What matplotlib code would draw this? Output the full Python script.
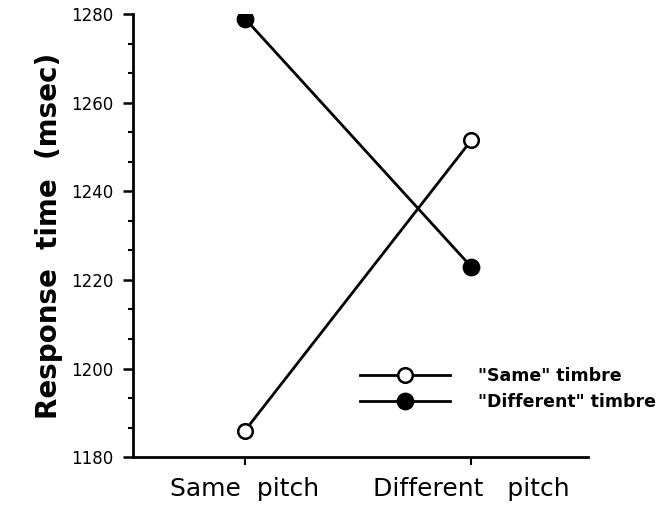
import matplotlib
matplotlib.use("Agg")
import matplotlib.pyplot as plt
from matplotlib.ticker import AutoMinorLocator

# data
conditions = ["Same  pitch", "Different   pitch"]
same_timbre = [1186, 1251.5]
diff_timbre = [1279, 1223]

plt.rcParams['font.family'] = ['DejaVu Sans']

fig = plt.figure(figsize=(6.58, 5.09), dpi=100)
ax = fig.add_axes([0.202, 0.102, 0.692, 0.870])

x = range(len(conditions))
ax.plot(x, same_timbre, color='black', lw=2, marker='o', ms=10.5,
        mfc='white', mec='black', mew=1.8, label='"Same" timbre', zorder=3)
ax.plot(x, diff_timbre, color='black', lw=2, marker='o', ms=11,
        mfc='black', mec='black', mew=1.8, label='"Different" timbre', zorder=3)

ax.set_xlim(-0.496, 1.518)
ax.set_ylim(1180, 1280)
ax.set_yticks([1180, 1200, 1220, 1240, 1260, 1280])
ax.yaxis.set_minor_locator(AutoMinorLocator(3))
ax.set_xticks(list(x))
ax.set_xticklabels(conditions, fontsize=18)
ax.tick_params(axis='y', labelsize=12, length=7, width=1.8, direction='out', pad=7)
ax.tick_params(axis='y', which='minor', length=3.5, width=1.5, direction='out')
ax.tick_params(axis='x', length=6, width=1.5, direction='out', pad=8)

for side in ['top', 'right']:
    ax.spines[side].set_visible(False)
for side in ['left', 'bottom']:
    ax.spines[side].set_linewidth(2)

ax.set_ylabel('Response  time  (msec)', fontsize=20, fontweight='bold', labelpad=6)

ax.legend(loc='upper left', bbox_to_anchor=(0.499, 0.204), frameon=False,
          prop={'size': 12.5, 'weight': 'bold'}, handlelength=5.2,
          handletextpad=1.6, labelspacing=0.5, borderpad=0, borderaxespad=0)

fig.savefig('out.png', dpi=100)
